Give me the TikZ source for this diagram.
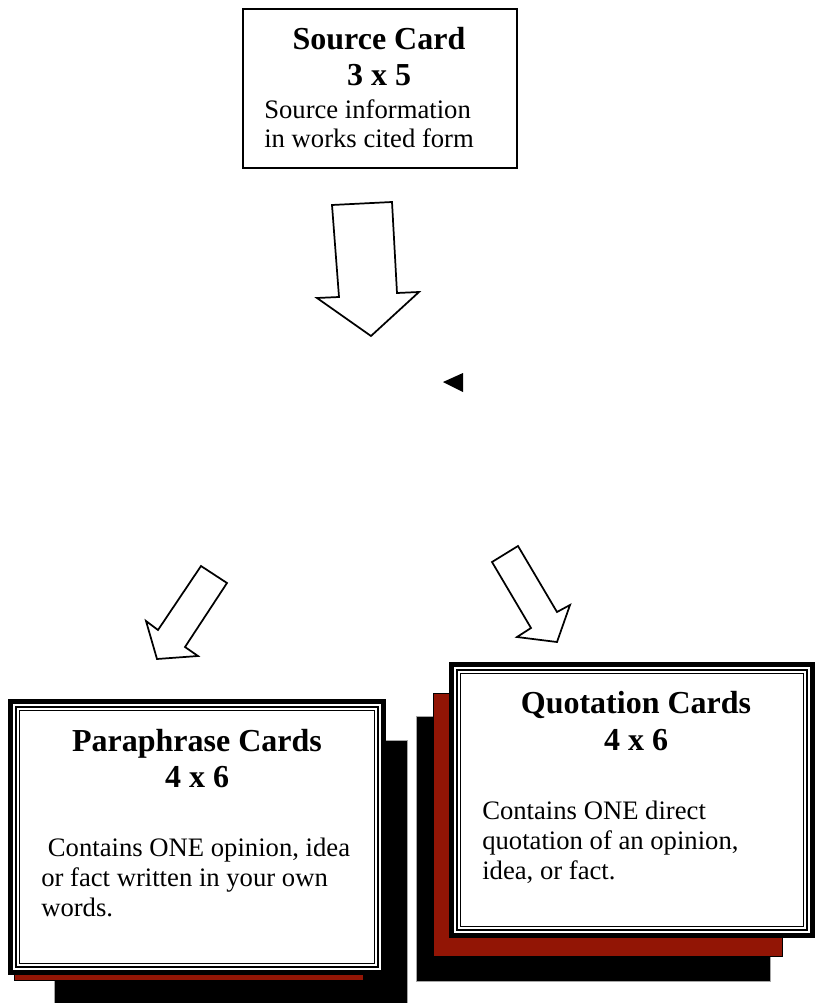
\documentclass[tikz,border=0pt]{standalone}
\usepackage{fontspec}
\setmainfont{Liberation Serif}
\definecolor{cardred}{RGB}{146,21,5}

\begin{document}
\begin{tikzpicture}[x=0.75pt,y=-0.75pt,
    head/.style={font=\fontsize{24}{28}\selectfont\bfseries, anchor=base, inner sep=0},
    body/.style={font=\fontsize{20}{24}\selectfont, anchor=base west, inner sep=0},
    blockarrow/.style={draw, line width=1.3pt, fill=white, line join=miter},
    backcard/.style={draw=gray!70, line width=0.6pt}]
    \useasboundingbox (0,0) rectangle (815,1003);

    % source card
    \draw[line width=1.5pt] (243,9) rectangle (517,168);
    \node[head] (srchead) at (379,49) {Source Card};
    \node[head] (srcsize) at (379,85) {3 x 5};
    \node[body] (srcinfo) at (264,118) {Source information};
    \node[body] (srcform) at (264,147) {in works cited form};

    % arrows
    \draw[blockarrow] (332,205) -- (392,202) -- (397,293) -- (419,292)
        -- (371,336) -- (317,298) -- (339,297) -- cycle;
    \fill (443,382) -- (463,373) -- (463,392) -- cycle;
    \draw[blockarrow] (201,566) -- (227,583) -- (185,647) -- (198,656)
        -- (157,659) -- (146,621) -- (158,630) -- cycle;
    \draw[blockarrow] (492,562) -- (518,546) -- (557,612) -- (570,605)
        -- (557,642) -- (517,637) -- (531,628) -- cycle;

    % cards behind
    \fill[black, backcard] (54,740) rectangle (407,1003);
    \fill[cardred, draw=black, line width=0.6pt] (14,720) rectangle (363,980);
    \fill[black, backcard] (416,716) rectangle (770,981);
    \fill[cardred, draw=black, line width=0.6pt] (433,693) rectangle (782,956);

    % front cards with triple border
    \foreach \xa/\ya/\xb/\yb in {8/699/386/975, 449/662/815/938}{
        \fill[white] (\xa,\ya) rectangle (\xb,\yb);
        \draw[line width=3.6pt] (\xa+2.5,\ya+2.5) rectangle (\xb-2.5,\yb-2.5);
        \draw[line width=1.2pt] (\xa+8,\ya+8) rectangle (\xb-8,\yb-8);
        \draw[line width=1.2pt] (\xa+11.5,\ya+11.5) rectangle (\xb-11.5,\yb-11.5);
    }

    \node[head] (parahead) at (197,751) {Paraphrase Cards};
    \node[head] (parasize) at (197,787) {4 x 6};
    \node[body] (paraone) at (41,856) {\ Contains ONE opinion, idea};
    \node[body] (paratwo) at (41,886) {or fact written in your own};
    \node[body] (parathree) at (41,916) {words.};

    \node[head] (quothead) at (636,713) {Quotation Cards};
    \node[head] (quotsize) at (636,750) {4 x 6};
    \node[body] (quotone) at (482,819) {Contains ONE direct};
    \node[body] (quottwo) at (482,849) {quotation of an opinion,};
    \node[body] (quotthree) at (482,879) {idea, or fact.};

\end{tikzpicture}
\end{document}
